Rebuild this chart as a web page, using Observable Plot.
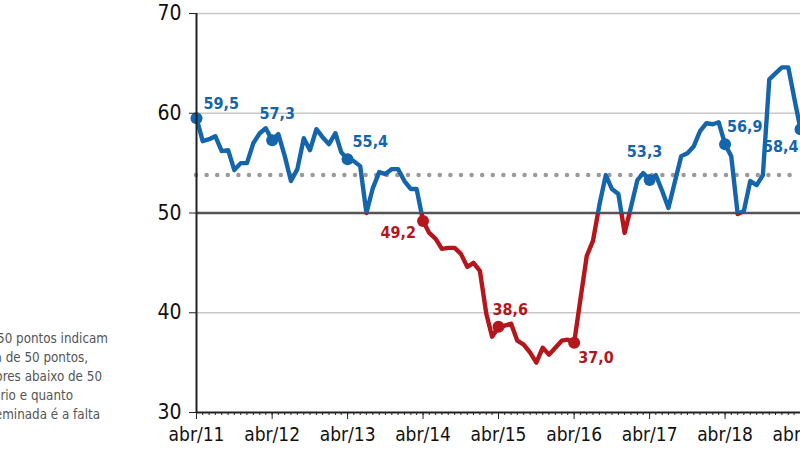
<!DOCTYPE html>
<html><head><meta charset="utf-8">
<script src="https://cdn.jsdelivr.net/npm/d3@7"></script>
<script src="https://cdn.jsdelivr.net/npm/@observablehq/plot@0.6"></script>
<style>
html,body{margin:0;padding:0;background:#fff;overflow:hidden;}
#wrap{position:relative;width:800px;height:450px;overflow:hidden;}
#chart svg{overflow:visible;}
#note{position:absolute;left:0;top:0;width:800px;height:450px;pointer-events:none;}
#note div{position:absolute;white-space:nowrap;font-family:"Liberation Sans Narrow","DejaVu Sans Condensed",Roboto,sans-serif;font-size:13.3px;color:#555;text-align:right;line-height:19px;}
</style></head>
<body><div id="wrap"><div id="chart"></div><div id="note"></div></div>
<script>
// ---- data (ICEI, monthly, abr/2011 .. abr/2019) ----
const firstMonth = "2011-04";
const values = [
  59.5,57.2,57.4,57.7,56.2,56.3,54.3,55.0,55.0,57.0,58.0,58.5,
  57.3,57.9,55.7,53.2,54.4,57.5,56.3,58.4,57.6,56.9,58.0,56.1,
  55.4,55.2,54.7,50.0,52.5,54.1,53.9,54.4,54.4,53.2,52.4,52.4,
  49.2,48.0,47.4,46.4,46.5,46.5,45.9,44.6,45.0,44.2,39.9,37.6,
  38.6,38.7,38.9,37.2,36.8,36.0,35.0,36.5,35.8,36.5,37.2,37.3,
  37.0,41.3,45.7,47.2,50.8,53.8,52.4,51.9,48.0,50.6,53.3,54.0,
  53.3,53.8,52.2,50.5,53.1,55.7,56.0,56.7,58.2,59.0,58.9,59.1,
  56.9,55.7,49.9,50.2,53.2,52.8,53.8,63.4,64.0,64.6,64.6,61.6,
  58.4
];
const labeledMonths = [0,12,24,36,48,60,72,84,96];
const tickLabels = ["abr/11","abr/12","abr/13","abr/14","abr/15","abr/16","abr/17","abr/18","abr/19"];
const yTicks = [30,40,50,60,70];
const gridValues = [40,60,70];
const neutralLine = 50;
const averageLine = 53.8;
const noteLines = [
  "Valores acima de 50 pontos indicam",
  "confiança; quanto mais acima da linha de 50 pontos,",
  "maior a confiança. Valores abaixo de 50",
  "indicam falta de confiança do empresário e quanto",
  "menores, mais intensa e disseminada é a falta"
];

// ---- styling ----
const BLUE = "#1565ad", RED = "#b5161c";
const FONT = '"Liberation Sans Narrow","DejaVu Sans Condensed",Roboto,sans-serif';
const labelStyle = [
  {dx: 7, dy: -14, anchor: "start"},
  {dx: 5, dy: -26, anchor: "middle"},
  {dx: 5, dy: -17, anchor: "start"},
  {dx: -7, dy: 12, anchor: "end"},
  {dx: -6, dy: -17, anchor: "start"},
  {dx: 4, dy: 15, anchor: "start"},
  {dx: -5, dy: -28, anchor: "middle"},
  {dx: 2, dy: -17, anchor: "start"},
  {dx: -2, dy: 18, anchor: "end"}
];
const noteRight = [108, 88, 102, 73, 100];
const noteTop = 329;

// ---- build ----
const [fy, fm] = firstMonth.split("-").map(Number);
const monthDate = i => new Date(Date.UTC(fy, fm - 1 + i, 1));
const data = values.map((v, i) => ({date: monthDate(i), value: v}));
const labeled = labeledMonths.map(i => data[i]);
const start = data[0].date, end = data[data.length - 1].date;
const majorTicks = labeledMonths.map(monthDate);
const minorTicks = d3.utcMonth.range(start, d3.utcMonth.offset(end, 1));
const tickLabelOf = new Map(majorTicks.map((d, i) => [+d, tickLabels[i]]));
const fmt = v => v.toFixed(1).replace(".", ",");

const textMarks = labeled.map((d, i) => Plot.text([d], {
  x: "date", y: "value", text: d => fmt(d.value),
  dx: labelStyle[i].dx, dy: labelStyle[i].dy, textAnchor: labelStyle[i].anchor,
  fill: d.value >= neutralLine ? BLUE : RED,
  fontWeight: "bold", fontSize: 16, fontFamily: FONT
}));

const svg = Plot.plot({
  width: 800, height: 450,
  marginLeft: 196, marginRight: 0, marginTop: 13, marginBottom: 38,
  style: {fontFamily: FONT, background: "transparent", overflow: "visible"},
  x: {type: "utc", domain: [start, end]},
  y: {domain: [30, 70]},
  color: {type: "identity"},
  marks: [
    Plot.ruleY(gridValues, {stroke: "#c8c8c8", strokeWidth: 1.5}),
    Plot.ruleY([averageLine], {stroke: "#9a9a9a", strokeWidth: 4.5, strokeDasharray: "0,10.6", strokeLinecap: "round"}),
    Plot.ruleY([neutralLine], {stroke: "#555", strokeWidth: 2.5}),
    Plot.line(data, {x: "date", y: "value", stroke: "url(#posneg)", strokeWidth: 4.4, strokeLinejoin: "round"}),
    Plot.dot(labeled, {x: "date", y: "value", r: 6, fill: d => d.value >= neutralLine ? BLUE : RED}),
    ...textMarks,
    Plot.ruleX([start], {stroke: "#222", strokeWidth: 2}),
    Plot.ruleY([30], {stroke: "#222", strokeWidth: 2}),
    Plot.axisY({ticks: yTicks, tickSize: 7, tickPadding: 8, fontSize: 21, label: null, stroke: "#222", color: "#111"}),
    Plot.axisX({ticks: minorTicks, tickSize: 3, tickFormat: () => "", label: null, stroke: "#222"}),
    Plot.axisX({ticks: majorTicks, tickSize: 7, tickPadding: 8, tickFormat: d => tickLabelOf.get(+d), fontSize: 19, label: null, stroke: "#222", color: "#111"})
  ]
});

// gradient: blue above the 50 line, red below
const y50 = svg.scale("y").apply(neutralLine);
const ns = "http://www.w3.org/2000/svg";
const defs = document.createElementNS(ns, "defs");
const lg = document.createElementNS(ns, "linearGradient");
lg.setAttribute("id", "posneg");
lg.setAttribute("gradientUnits", "userSpaceOnUse");
lg.setAttribute("x1", 0); lg.setAttribute("x2", 0);
lg.setAttribute("y1", 0); lg.setAttribute("y2", 450);
const off = y50 / 450;
[[0, BLUE], [off, BLUE], [off, RED], [1, RED]].forEach(([o, c]) => {
  const s = document.createElementNS(ns, "stop");
  s.setAttribute("offset", o); s.setAttribute("stop-color", c);
  lg.appendChild(s);
});
defs.appendChild(lg);
svg.insertBefore(defs, svg.firstChild);
document.getElementById("chart").appendChild(svg);

// side note (cut at the left edge)
const note = document.getElementById("note");
noteLines.forEach((t, i) => {
  const el = document.createElement("div");
  el.textContent = t;
  el.style.right = (800 - noteRight[i]) + "px";
  el.style.top = (noteTop + i * 19) + "px";
  note.appendChild(el);
});
</script>
</body></html>
